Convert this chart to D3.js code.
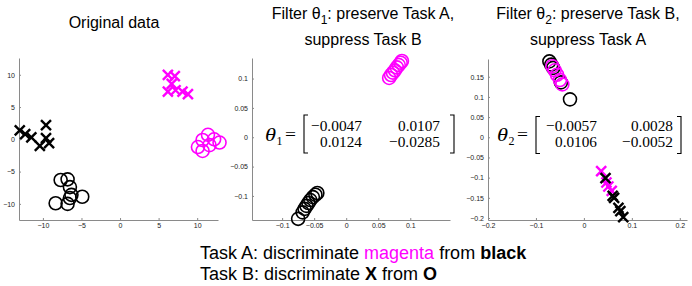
<!DOCTYPE html>
<html><head><meta charset="utf-8">
<script src="https://cdn.jsdelivr.net/npm/d3@7"></script>
<style>body{margin:0;background:#fff}svg{display:block}</style>
</head><body>
<svg id="c" width="692" height="286"></svg>
<script>
// ---------- data ----------
const p1XTicks = [-10, -5, 0, 5, 10];
const p1YTicks = [10, 5, 0, -5, -10];
const p2XTicks = [-0.1, -0.05, 0, 0.05, 0.1];
const p2YTicks = [0.1, 0.05, 0, -0.05, -0.1];
const p3XTicks = [-0.2, -0.1, 0, 0.1, 0.2];
const p3YTicks = [0.15, 0.1, 0.05, 0, -0.05, -0.1, -0.15, -0.2];

const origBlackX = [[-13.0,1.4],[-12.3,0.8],[-11.5,0.3],[-10.4,-1.0],[-9.6,2.2],[-9.6,0.2],[-9.2,-0.6]];
const origMagentaX = [[6.2,10.0],[7.1,9.8],[6.7,8.6],[6.2,7.4],[7.2,7.6],[8.1,7.4],[8.8,7.0]];
const origMagentaO = [[11.4,0.7],[10.7,-0.1],[12.2,0.0],[12.9,-0.5],[10.1,-1.2],[10.7,-1.8],[11.6,-0.9]];
const origBlackO = [[-7.7,-6.3],[-6.8,-6.2],[-6.5,-7.4],[-6.3,-8.6],[-4.9,-8.9],[-8.35,-9.9],[-6.8,-10.0],[-6.5,-9.1]];

const f1MagentaO = [[0.067,0.101],[0.070,0.106],[0.073,0.110],[0.076,0.114],[0.079,0.119],[0.082,0.123],[0.085,0.127],[0.087,0.130]];
const f1BlackO = [[-0.075,-0.139],[-0.068,-0.128],[-0.065,-0.122],[-0.062,-0.117],[-0.059,-0.112],[-0.056,-0.107],[-0.052,-0.102],[-0.048,-0.098],[-0.045,-0.095]];

const f2BlackO = [[-0.072,0.188],[-0.068,0.180],[-0.064,0.172],[-0.048,0.136],[-0.029,0.094]];
const f2MagentaO = [[-0.066,0.176],[-0.061,0.166],[-0.056,0.155],[-0.050,0.142],[-0.045,0.131]];
const f2MagentaX = [[0.036,-0.084],[0.047,-0.112],[0.051,-0.122],[0.058,-0.133]];
const f2BlackX = [[0.045,-0.101],[0.060,-0.145],[0.063,-0.150],[0.072,-0.175],[0.076,-0.183],[0.082,-0.198]];

const theta1 = [["−0.0047","0.0107"],["0.0124","−0.0285"]];
const theta2 = [["−0.0057","0.0028"],["0.0106","−0.0052"]];

// ---------- drawing ----------
const MAG = "#ff00ff";
const svg = d3.select("#c");
const fmt = v => (v < 0 ? "−" : "") + String(Math.abs(+v.toFixed(4)));

function panel(cfg) {
  const x = d3.scaleLinear().domain(cfg.xd).range(cfg.xr);
  const y = d3.scaleLinear().domain(cfg.yd).range(cfg.yr);
  const g = svg.append("g");
  const xa = d3.axisBottom(x).tickValues(cfg.xt).tickSizeInner(-2).tickSizeOuter(0).tickPadding(4).tickFormat(fmt);
  const ya = d3.axisLeft(y).tickValues(cfg.yt).tickSizeInner(-2).tickSizeOuter(0).tickPadding(4).tickFormat(fmt);
  const gx = g.append("g").attr("transform", `translate(0,${cfg.yr[0]})`).call(xa);
  const gy = g.append("g").attr("transform", `translate(${cfg.xr[0]},0)`).call(ya);
  [gx, gy].forEach(a => {
    a.select(".domain").attr("stroke", "#8a8a8a").attr("stroke-width", 1);
    a.selectAll(".tick line").attr("stroke", "#8a8a8a");
    a.selectAll(".tick text").attr("fill", "#222").style("font", "7px 'Liberation Sans', Arial, sans-serif");
  });
  gx.selectAll(".tick text").attr("dy", "0.6em");
  return {g, x, y};
}

function circles(p, data, color) {
  p.g.append("g").selectAll("circle").data(data).join("circle")
    .attr("cx", d => p.x(d[0])).attr("cy", d => p.y(d[1])).attr("r", 6.5)
    .attr("fill", "none").attr("stroke", color).attr("stroke-width", 1.6);
}
function crosses(p, data, color) {
  p.g.append("g").selectAll("path").data(data).join("path")
    .attr("transform", d => `translate(${p.x(d[0])},${p.y(d[1])})`)
    .attr("d", "M-5,-5L5,5M-5,5L5,-5")
    .attr("fill", "none").attr("stroke", color).attr("stroke-width", 2.4);
}

const P1 = panel({xd:[-13.1,12.7], xr:[19,218], yd:[-12.5,12.6], yr:[220,58], xt:p1XTicks, yt:p1YTicks});
crosses(P1, origBlackX, "#000");
crosses(P1, origMagentaX, MAG);
circles(P1, origMagentaO, MAG);
circles(P1, origBlackO, "#000");

const P2 = panel({xd:[-0.147,0.162], xr:[252,450], yd:[-0.141,0.135], yr:[220,58], xt:p2XTicks, yt:p2YTicks});
circles(P2, f1MagentaO, MAG);
circles(P2, f1BlackO, "#000");

const P3 = panel({xd:[-0.2,0.215], xr:[488,687], yd:[-0.205,0.194], yr:[220,59], xt:p3XTicks, yt:p3YTicks});
circles(P3, f2BlackO, "#000");
circles(P3, f2MagentaO, MAG);
crosses(P3, f2MagentaX, MAG);
crosses(P3, f2BlackX, "#000");

// ---------- titles ----------
const SANS = "'Liberation Sans', Arial, Helvetica, sans-serif";
svg.append("text").attr("x", 114).attr("y", 28).attr("text-anchor", "middle")
  .style("font", `16px ${SANS}`).text("Original data");

function filterTitle(cx, sub, l1rest, l2) {
  const t = svg.append("text").attr("x", cx).attr("y", 18.5).attr("text-anchor", "middle").style("font", `16px ${SANS}`);
  t.append("tspan").text("Filter θ");
  t.append("tspan").attr("dy", 5).style("font-size", "12px").text(sub);
  t.append("tspan").attr("dy", -5).text(l1rest);
  svg.append("text").attr("x", cx).attr("y", 45).attr("text-anchor", "middle").style("font", `16px ${SANS}`).text(l2);
}
filterTitle(363, "1", ": preserve Task A,", "suppress Task B");
filterTitle(588, "2", ": preserve Task B,", "suppress Task A");

// ---------- matrices ----------
const SERIF = "'Liberation Serif', 'Times New Roman', serif";
function matrix(m, o) {
  const g = svg.append("g");
  g.append("text").attr("x", o.thx).attr("y", o.base).style("font", `italic 18px ${SERIF}`)
    .attr("textLength", 11).attr("lengthAdjust", "spacingAndGlyphs").text("θ");
  g.append("text").attr("x", o.thx + 11.5).attr("y", o.base + 3.5).style("font", `12px ${SERIF}`).text(o.sub);
  g.append("text").attr("x", o.eqx).attr("y", o.base - 1).attr("textLength", 11).attr("lengthAdjust", "spacingAndGlyphs")
    .style("font", `17px ${SERIF}`).text("=");
  const br = (xb, dir) => `M${xb + 4*dir},${o.by0}H${xb}V${o.by1}H${xb + 4*dir}`;
  g.append("path").attr("d", br(o.bl, 1)).attr("fill", "none").attr("stroke", "#000").attr("stroke-width", 1.1);
  g.append("path").attr("d", br(o.brx, -1)).attr("fill", "none").attr("stroke", "#000").attr("stroke-width", 1.1);
  m.forEach((row, i) => row.forEach((s, j) => {
    const w = s.startsWith("−") ? 51 : 42;
    g.append("text").attr("x", o.colR[j] - w).attr("y", o.rows[i])
      .attr("textLength", w).attr("lengthAdjust", "spacingAndGlyphs")
      .style("font", `15.5px ${SERIF}`).text(s);
  }));
}
matrix(theta1, {thx:265, sub:"1", base:141, eqx:285, bl:304, brx:454, by0:115, by1:153, colR:[362,440], rows:[131,147]});
matrix(theta2, {thx:497, sub:"2", base:141, eqx:517, bl:536, brx:681, by0:116.5, by1:153.5, colR:[597,673], rows:[131,147]});

// ---------- bottom caption ----------
const cap1 = svg.append("text").attr("x", 200).attr("y", 258.5).style("font", `18px ${SANS}`);
cap1.append("tspan").text("Task A: discriminate ");
cap1.append("tspan").attr("fill", MAG).text("magenta");
cap1.append("tspan").text(" from ");
cap1.append("tspan").attr("font-weight", "bold").text("black");
const cap2 = svg.append("text").attr("x", 200).attr("y", 279.5).style("font", `18px ${SANS}`);
cap2.append("tspan").text("Task B: discriminate ");
cap2.append("tspan").attr("font-weight", "bold").text("X");
cap2.append("tspan").text(" from ");
cap2.append("tspan").attr("font-weight", "bold").text("O");
</script>
</body></html>
